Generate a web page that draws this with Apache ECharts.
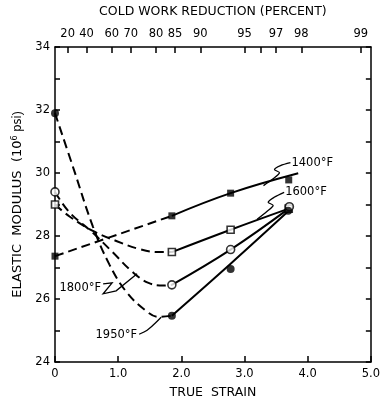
<!DOCTYPE html>
<html>
<head>
<meta charset="utf-8">
<script src="https://cdn.jsdelivr.net/npm/echarts@6/dist/echarts.min.js"></script>
<style>html,body{margin:0;padding:0;background:#fff}#c{width:383px;height:404px}</style>
</head>
<body>
<div id="c"></div>
<script>
// ---- data ----
const xTicksBottom = [0, 1, 2, 3, 4, 5];
const yTicksLabelled = [24, 26, 28, 30, 32, 34];
const topTickStrain = [0.2, 0.5, 0.9, 1.2, 1.6, 1.9, 2.3, 3.0, 3.25, 3.5, 3.9, 4.84];
const topTickLabels = ['20', '40', '60', '70', '80', '85', '90', '95', '', '97', '98', '99'];

// measured points (true strain, modulus 10^6 psi)
const pts1400 = [[0, 27.36], [1.85, 28.64], [2.78, 29.36], [3.70, 29.78]];
const pts1600 = [[0, 29.0], [1.85, 27.49], [2.78, 28.2], [3.70, 28.87]];
const pts1800 = [[0, 29.4], [1.85, 26.45], [2.78, 27.57], [3.71, 28.93]];
const pts1950 = [[0, 31.9], [1.85, 25.47], [2.78, 26.95], [3.69, 28.8]];

// hand-drawn curves (dashed part and solid part)
const dash1400 = [[0, 27.36], [1.85, 28.64]];
const solid1400 = [[1.85, 28.64], [2.78, 29.36], [3.85, 29.99]];
const dash1600 = [[0, 29.0], [0.23, 28.62], [0.6, 28.16], [0.96, 27.85], [1.33, 27.59], [1.64, 27.49], [1.85, 27.49]];
const solid1600 = [[1.85, 27.49], [2.78, 28.2], [3.70, 28.87]];
const dash1800 = [[0, 29.4], [0.23, 28.75], [0.6, 28.1], [0.91, 27.49], [1.22, 26.87], [1.48, 26.51], [1.72, 26.43], [1.85, 26.45]];
const solid1800 = [[1.85, 26.45], [2.78, 27.57], [3.70, 28.87]];
const dash1950 = [[0, 31.9], [0.3, 30.1], [0.6, 28.3], [0.86, 27.1], [1.12, 26.25], [1.43, 25.64], [1.64, 25.43], [1.85, 25.47]];
const solid1950 = [[1.85, 25.47], [2.78, 27.12], [3.70, 28.8]];

// curve labels: text, anchor on curve (data), leader offsets (px), text offset (px)
const curveLabels = [
  { text: '1400°F', anchor: [3.3, 29.6], path: [[0,0],[10,-7],[16,-13],[11,-16],[17,-20],[27,-23]], smooth: 0.3, tx: 28, ty: -23, align: 'left' },
  { text: '1600°F', anchor: [3.2, 28.53], path: [[0,0],[10,-8],[16,-14],[11,-17],[17,-22],[27,-27]], smooth: 0.3, tx: 28, ty: -27, align: 'left' },
  { text: '1800°F', anchor: [1.3, 26.8], path: [[-34,10],[-25,9],[-34,20],[-21,17],[0,0]], smooth: 0, tx: -36, ty: 14, align: 'right' },
  { text: '1950°F', anchor: [1.68, 25.42], path: [[-22,17],[-14,13],[-6,6],[0,0]], smooth: 0.3, tx: -24, ty: 18, align: 'right' }
];

const FONT = 'DejaVu Sans';
const chart = echarts.init(document.getElementById('c'), null, { renderer: 'canvas' });

function lineSeries(data, dashed) {
  return {
    type: 'line', data: data, xAxisIndex: 0, yAxisIndex: 0,
    showSymbol: false, symbol: 'none', smooth: data.length > 2 ? 0.4 : false,
    lineStyle: { color: '#000', width: 2, type: dashed ? [9, 5] : 'solid' },
    silent: true, z: 2
  };
}
function markerSeries(data, symbol, filled, size) {
  return {
    type: 'scatter', data: data, xAxisIndex: 0, yAxisIndex: 0,
    symbol: symbol, symbolSize: size,
    itemStyle: { color: filled ? '#000' : '#fff', borderColor: '#000', borderWidth: filled ? 0 : 1.6 },
    z: 5
  };
}
function tick(len, extra) {
  return Object.assign({ show: true, inside: true, length: len, lineStyle: { color: '#000', width: 1.5 } }, extra || {});
}
const axLine = { show: true, onZero: false, lineStyle: { color: '#000', width: 1.5 } };

const option = {
  animation: false,
  backgroundColor: '#fff',
  grid: { left: 55, right: 8, top: 44, bottom: 36 },
  xAxis: [
    {
      type: 'value', position: 'bottom', min: 0, max: 5, interval: 1,
      axisLine: axLine, splitLine: { show: false }, axisTick: tick(6),
      axisLabel: { color: '#000', fontFamily: FONT, fontSize: 11.5, margin: 6,
        formatter: v => (xTicksBottom.indexOf(v) < 0 ? '' : (v === 0 ? '0' : v.toFixed(1))) },
      name: 'TRUE  STRAIN', nameLocation: 'middle', nameGap: 24,
      nameTextStyle: { color: '#000', fontFamily: FONT, fontSize: 12.5 }
    },
    {
      type: 'value', position: 'top', min: 0, max: 5,
      axisLine: axLine, splitLine: { show: false },
      axisTick: tick(6, { customValues: topTickStrain }),
      axisLabel: { color: '#000', fontFamily: FONT, fontSize: 11.5, margin: 7, customValues: topTickStrain,
        formatter: v => { const i = topTickStrain.indexOf(v); return i < 0 ? '' : topTickLabels[i]; } },
      name: 'COLD WORK REDUCTION (PERCENT)', nameLocation: 'middle', nameGap: 29,
      nameTextStyle: { color: '#000', fontFamily: FONT, fontSize: 12.5 }
    }
  ],
  yAxis: [
    {
      type: 'value', position: 'left', min: 24, max: 34, interval: 1,
      axisLine: axLine, splitLine: { show: false }, axisTick: tick(5),
      axisLabel: { color: '#000', fontFamily: FONT, fontSize: 11.5, margin: 5,
        formatter: v => (yTicksLabelled.indexOf(v) < 0 ? '' : String(v)) },
      name: '{a|ELASTIC  MODULUS  (10}{s|6}{p| psi})', nameLocation: 'middle', nameGap: 27, nameRotate: 90,
      nameTextStyle: { color: '#000', rich: {
        a: { fontFamily: FONT, fontSize: 13, color: '#000' },
        s: { fontFamily: FONT, fontSize: 8, color: '#000', verticalAlign: 'top', padding: [0, 0, 6, 0] },
        p: { fontFamily: FONT, fontSize: 11.5, color: '#000' } } }
    },
    {
      type: 'value', position: 'right', min: 24, max: 34, interval: 1,
      axisLine: axLine, splitLine: { show: false }, axisTick: tick(5),
      axisLabel: { show: false }
    }
  ],
  series: [
    lineSeries(dash1400, true), lineSeries(solid1400, false),
    lineSeries(dash1600, true), lineSeries(solid1600, false),
    lineSeries(dash1800, true), lineSeries(solid1800, false),
    lineSeries(dash1950, true), lineSeries(solid1950, false),
    markerSeries(pts1400, 'rect', true, 7),
    markerSeries(pts1600, 'rect', false, 7),
    markerSeries(pts1800, 'circle', false, 8),
    markerSeries(pts1950, 'circle', true, 8)
  ]
};
chart.setOption(option);

// curve labels with leaders, anchored in data space
const graphics = [];
curveLabels.forEach(c => {
  const p = chart.convertToPixel({ xAxisIndex: 0, yAxisIndex: 0 }, c.anchor);
  graphics.push({
    type: 'polyline', silent: true, z: 10,
    shape: { points: c.path.map(o => [p[0] + o[0], p[1] + o[1]]), smooth: c.smooth },
    style: { stroke: '#000', lineWidth: 1.3, fill: null }
  });
  graphics.push({
    type: 'text', silent: true, z: 10, x: p[0] + c.tx, y: p[1] + c.ty,
    style: { text: c.text, fill: '#000', font: '11.5px "' + FONT + '"', align: c.align, verticalAlign: 'middle' }
  });
});
chart.setOption({ graphic: graphics });
</script>
</body>
</html>
